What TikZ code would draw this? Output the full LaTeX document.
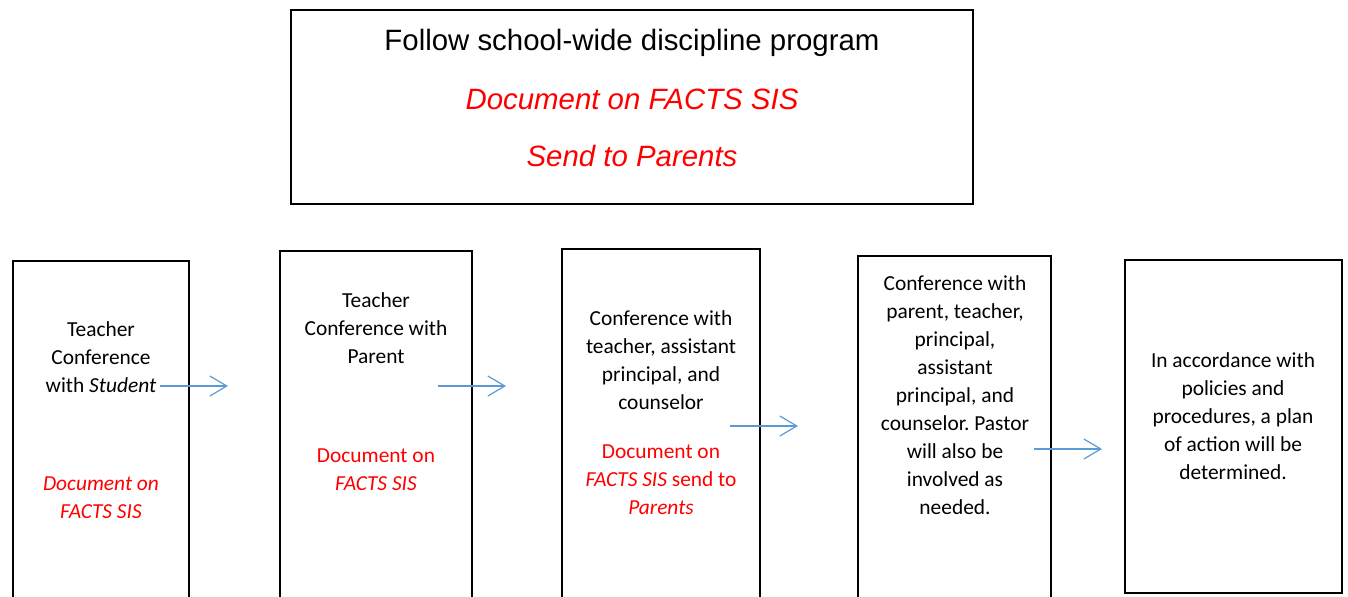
\documentclass[tikz,border=0pt]{standalone}
\usepackage{fontspec}
\setmainfont{Carlito}
\newfontfamily\arialfont{Liberation Sans}
\usetikzlibrary{arrows.meta}
\definecolor{arrowblue}{RGB}{91,155,213}
\definecolor{docred}{RGB}{255,0,0}
\frenchspacing
\begin{document}
\begin{tikzpicture}[x=0.5pt,y=-0.5pt,
  stagebox/.style={draw=black,line width=1.4pt},
  topbox/.style={draw=black,line width=1pt},
  body/.style={align=center,inner sep=0pt,font=\fontsize{10.7}{14}\selectfont},
  redbody/.style={body,text=docred},
  toptext/.style={inner sep=0pt,font=\arialfont\fontsize{14.7}{17}\selectfont},
  flow/.style={draw=arrowblue,line width=0.6pt,-{Straight Barb[length=8.5pt,width=10pt,line width=0.6pt]}}]
\useasboundingbox (0,0) rectangle (1348,596);
% top box
\draw[topbox] (291,10) rectangle (973,204);
\node[toptext] (t1) at (632,43) {Follow school-wide discipline program};
\node[toptext,text=docred] (t2) at (632,99) {\itshape Document on FACTS SIS};
\node[toptext,text=docred] (t3) at (632,156) {\itshape Send to Parents};
% stage boxes
\draw[stagebox] (13,261) rectangle (189,620);
\draw[stagebox] (280,251) rectangle (472,620);
\draw[stagebox] (562,249) rectangle (760,620);
\draw[stagebox] (858,256) rectangle (1051,620);
\draw[stagebox] (1125,260) rectangle (1342,593);
% texts
\node[body] (b1) at (101,357) {Teacher\\Conference\\with \textit{Student}};
\node[redbody] (r1) at (101,498) {\itshape Document on\\\itshape FACTS SIS};
\node[body] (b2) at (376,328) {Teacher\\Conference with\\Parent};
\node[redbody] (r2) at (376,470) {Document on\\\textit{FACTS SIS}};
\node[body] (b3) at (661,360) {Conference with\\teacher, assistant\\principal, and\\counselor};
\node[redbody] (r3) at (661,480) {Document on\\\textit{FACTS SIS} send to\\\textit{Parents}};
\node[body] (b4) at (955,395) {Conference with\\parent, teacher,\\principal,\\assistant\\principal, and\\counselor. Pastor\\will also be\\involved as\\needed.};
\node[body] (b5) at (1233,416) {In accordance with\\policies and\\procedures, a plan\\of action will be\\determined.};
% arrows
\coordinate (a1s) at (160,386); \coordinate (a1e) at (228,386);
\coordinate (a2s) at (438,386); \coordinate (a2e) at (506,386);
\coordinate (a3s) at (730,426); \coordinate (a3e) at (798,426);
\coordinate (a4s) at (1034,449); \coordinate (a4e) at (1102,449);
\draw[flow] (a1s) -- (a1e);
\draw[flow] (a2s) -- (a2e);
\draw[flow] (a3s) -- (a3e);
\draw[flow] (a4s) -- (a4e);
\end{tikzpicture}
\end{document}
